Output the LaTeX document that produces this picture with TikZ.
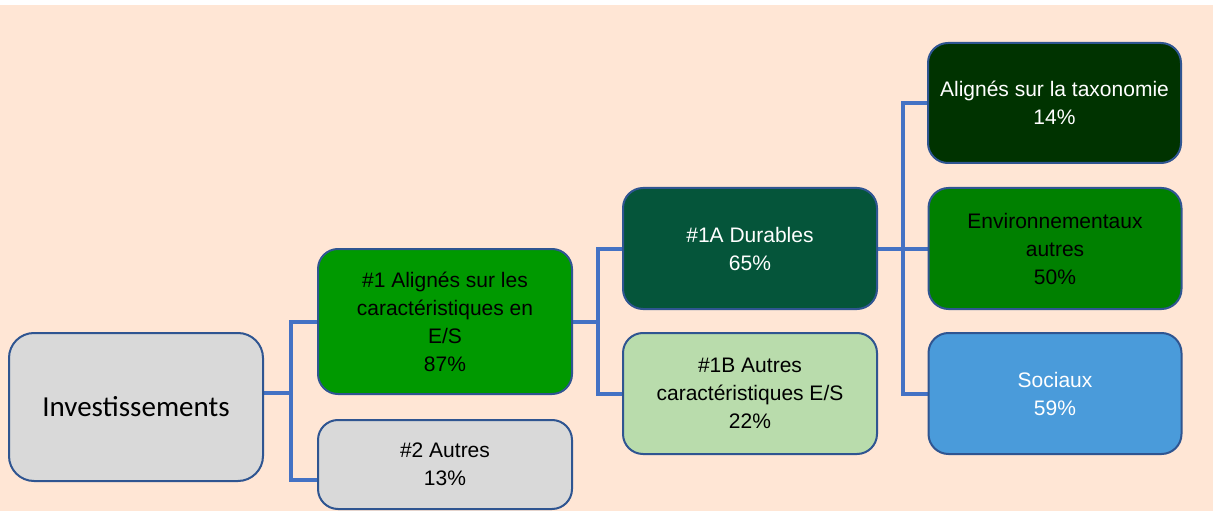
\documentclass[tikz,border=0pt]{standalone}
\usepackage{fontspec}
\setmainfont{Liberation Sans}
\newfontfamily\calfont{Carlito}
\usetikzlibrary{backgrounds}
\definecolor{bgc}{HTML}{FFE6D5}
\definecolor{bordc}{HTML}{2F5591}
\definecolor{connc}{HTML}{4472C4}
\definecolor{greyc}{HTML}{D9D9D9}
\definecolor{greenA}{HTML}{009900}
\definecolor{darkA}{HTML}{05553A}
\definecolor{lightB}{HTML}{B9DCAC}
\definecolor{taxc}{HTML}{003300}
\definecolor{envc}{HTML}{008000}
\definecolor{socc}{HTML}{4A9BDA}
\tikzset{
  box/.style={draw=bordc, line width=2pt, rounded corners=20pt, minimum width=254pt,
    inner sep=0pt, align=center, font=\fontsize{21}{28}\selectfont},
  conn/.style={draw=connc, line width=4pt}
}
\begin{document}
\begin{tikzpicture}[x=1pt,y=-1pt]
\useasboundingbox (0,0) rectangle (1218,513);
\node[box, fill=greyc, minimum height=148pt, rounded corners=25pt, font=\calfont\fontsize{29}{34}\selectfont] (inv) at (136,407) {Investissements};
\node[box, fill=greenA, minimum height=145pt] (n1) at (445,321.5) {\#1 Alignés sur les\\caractéristiques en\\E/S\\87\%};
\node[box, fill=greyc, minimum height=89pt] (n2) at (445,464.5) {\#2 Autres\\13\%};
\node[box, fill=darkA, text=white, minimum height=121pt] (n1a) at (750,248.5) {\#1A Durables\\65\%};
\node[box, fill=lightB, minimum height=121pt] (n1b) at (750,393.5) {\#1B Autres\\caractéristiques E/S\\22\%};
\node[box, fill=taxc, text=white, minimum height=120pt, minimum width=253pt] (tax) at (1054.5,103) {Alignés sur la taxonomie\\14\%};
\node[box, fill=envc, minimum height=121pt, minimum width=253pt] (env) at (1055,248.5) {Environnementaux\\autres\\50\%};
\node[box, fill=socc, text=white, minimum height=121pt, minimum width=253pt] (soc) at (1055,393.5) {Sociaux\\59\%};
\begin{pgfonlayer}{background}
\fill[bgc] (0,5) rectangle (1213,511);
\coordinate (invout) at ([yshift=14pt]inv.east);
\coordinate (n2in) at ([yshift=-15pt]n2.west);
\draw[conn] (invout) -- ++(27,0) |- (n1.west);
\draw[conn] (invout) -- ++(27,0) |- (n2in);
\draw[conn] (n1.east) -- ++(25,0) |- (n1a.west);
\draw[conn] (n1.east) -- ++(25,0) |- (n1b.west);
\draw[conn] (n1a.east) -- ++(25,0) |- (tax.west);
\draw[conn] (n1a.east) -- ++(25,0) |- (env.west);
\draw[conn] (n1a.east) -- ++(25,0) |- (soc.west);
\end{pgfonlayer}
\end{tikzpicture}
\end{document}
